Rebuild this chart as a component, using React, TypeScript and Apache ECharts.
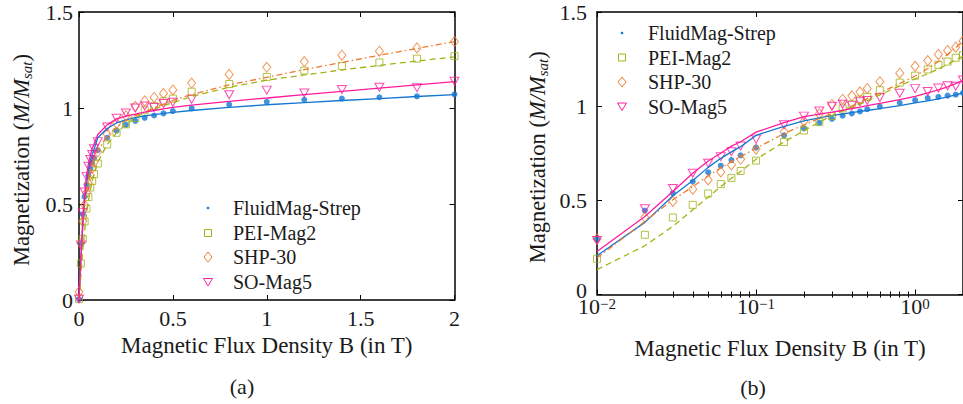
import React, { useEffect, useRef } from 'react';
import * as echarts from 'echarts';

// Magnetic flux density B (T)
const B = [0, 0.01, 0.02, 0.03, 0.04, 0.05, 0.06, 0.07, 0.08, 0.1, 0.15, 0.2, 0.25, 0.3, 0.35, 0.4, 0.45, 0.5, 0.6, 0.8, 1.0, 1.2, 1.4, 1.6, 1.8, 2.0];

// Measured magnetization M/Msat
const fluidMag = [0.005, 0.295, 0.446, 0.538, 0.6, 0.649, 0.684, 0.714, 0.739, 0.78, 0.845, 0.882, 0.912, 0.933, 0.949, 0.961, 0.972, 0.984, 0.998, 1.018, 1.032, 1.043, 1.049, 1.056, 1.061, 1.071];
const peiMag = [0.005, 0.19, 0.317, 0.409, 0.476, 0.536, 0.586, 0.619, 0.656, 0.711, 0.81, 0.871, 0.915, 0.947, 0.988, 1.01, 1.035, 1.049, 1.085, 1.125, 1.162, 1.195, 1.219, 1.237, 1.257, 1.27];
const shp = [0.043, 0.295, 0.41, 0.494, 0.559, 0.608, 0.651, 0.688, 0.718, 0.772, 0.864, 0.92, 0.96, 1.009, 1.037, 1.055, 1.076, 1.094, 1.13, 1.175, 1.212, 1.242, 1.275, 1.296, 1.313, 1.346];
const soMag = [0.005, 0.287, 0.455, 0.563, 0.644, 0.697, 0.732, 0.758, 0.788, 0.825, 0.901, 0.947, 0.974, 1.0, 1.01, 1.003, 1.023, 1.03, 1.046, 1.069, 1.093, 1.078, 1.096, 1.108, 1.106, 1.139];

// Fitted curves M/Msat
const fluidMagFit = [0, 0.206, 0.383, 0.524, 0.605, 0.675, 0.723, 0.757, 0.785, 0.845, 0.893, 0.922, 0.938, 0.95, 0.959, 0.966, 0.972, 0.977, 0.987, 1.003, 1.017, 1.028, 1.039, 1.049, 1.06, 1.07];
const peiMagFit = [0, 0.132, 0.259, 0.362, 0.45, 0.517, 0.573, 0.617, 0.653, 0.718, 0.81, 0.87, 0.915, 0.95, 0.975, 0.995, 1.012, 1.028, 1.06, 1.108, 1.145, 1.172, 1.198, 1.222, 1.245, 1.266];
const shpFit = [0, 0.194, 0.388, 0.503, 0.573, 0.63, 0.672, 0.705, 0.732, 0.776, 0.855, 0.9, 0.935, 0.96, 0.98, 1.0, 1.02, 1.04, 1.07, 1.12, 1.16, 1.2, 1.237, 1.275, 1.31, 1.346];
const soMagFit = [0, 0.228, 0.414, 0.547, 0.644, 0.709, 0.75, 0.788, 0.811, 0.862, 0.912, 0.944, 0.958, 0.968, 0.978, 0.987, 0.995, 1.003, 1.015, 1.035, 1.052, 1.07, 1.087, 1.103, 1.12, 1.137];

const seriesNames = ['FluidMag-Strep', 'PEI-Mag2', 'SHP-30', 'SO-Mag5'];
const linTicks = [0, 0.5, 1, 1.5, 2];
const yTicks = [0, 0.5, 1, 1.5];
const logMinorTicks = [0.02, 0.03, 0.04, 0.05, 0.06, 0.07, 0.08, 0.09, 0.2, 0.3, 0.4, 0.5, 0.6, 0.7, 0.8, 0.9];

const FONT = 'Liberation Serif';
const INK = '#1a1a1a';
const COLORS = ['#1477d2', '#a3b316', '#ee7a2e', '#ff1c9c'];

const SPECS = [
  { name: seriesNames[0], color: COLORS[0], data: fluidMag, fit: fluidMagFit, symbol: 'circle', size: 6, rotate: 0, filled: true, dash: 'solid' as any },
  { name: seriesNames[1], color: COLORS[1], data: peiMag, fit: peiMagFit, symbol: 'rect', size: [7, 7], rotate: 0, filled: false, dash: [6, 4] },
  { name: seriesNames[2], color: COLORS[2], data: shp, fit: shpFit, symbol: 'diamond', size: [8, 10], rotate: 0, filled: false, dash: [6, 3, 1.5, 3] },
  { name: seriesNames[3], color: COLORS[3], data: soMag, fit: soMagFit, symbol: 'triangle', size: [9, 8], rotate: 180, filled: false, dash: 'solid' as any },
];

function legendMarker(kind: number, x: number, y: number) {
  const c = COLORS[kind];
  const stroke = { fill: 'none', stroke: c, lineWidth: 1 };
  if (kind === 0) return { type: 'circle', shape: { cx: x, cy: y, r: 1.3 }, style: { fill: c } };
  if (kind === 1) return { type: 'rect', shape: { x: x - 3.5, y: y - 3.5, width: 7, height: 7 }, style: stroke };
  if (kind === 2) return { type: 'polygon', shape: { points: [[x, y - 5], [x + 4, y], [x, y + 5], [x - 4, y]] }, style: stroke };
  return { type: 'polygon', shape: { points: [[x - 4.5, y - 3.5], [x + 4.5, y - 3.5], [x, y + 4]] }, style: stroke };
}

function legendGroup(mx: number, tx: number, rows: number[]) {
  const els: any[] = [];
  seriesNames.forEach((n, i) => {
    els.push(legendMarker(i, mx, rows[i]));
    els.push({
      type: 'text', x: tx, y: rows[i],
      style: { text: n, font: '20px ' + FONT, fill: INK, align: 'left', verticalAlign: 'middle', textAlign: 'left', textVerticalAlign: 'middle' },
    });
  });
  return els;
}

export default function App() {
  const ref = useRef<HTMLDivElement>(null);
  useEffect(() => {
    if (!ref.current) return;
    const chart = echarts.init(ref.current, undefined, { renderer: 'svg' });

    const axisLine = { show: true, onZero: false, lineStyle: { color: '#000', width: 1.5 } };
    const tick = (len: number) => ({ show: true, inside: true, length: len, lineStyle: { color: '#000', width: 1 } });
    const labelStyle = { fontFamily: FONT, fontSize: 22, color: INK };
    const yName = '{r|Magnetization (}{i|M/M}{s|sat}{r|)}';
    const yNameStyle = {
      fontFamily: FONT, fontSize: 22.5, color: INK, padding: [0, 8, 0, 0],
      rich: {
        r: { fontFamily: FONT, fontSize: 22.5, color: INK, lineHeight: 26 },
        i: { fontFamily: FONT, fontSize: 22.5, fontStyle: 'italic', color: INK, lineHeight: 26 },
        s: { fontFamily: FONT, fontSize: 15, fontStyle: 'italic', color: INK, verticalAlign: 'bottom', lineHeight: 26 },
      },
    };
    const xName = 'Magnetic Flux Density B (in T)';
    const xNameStyle = { fontFamily: FONT, fontSize: 23, color: INK };

    const logFmt = (v: number) => {
      const l = Math.log10(v);
      const e = Math.round(l);
      if (Math.abs(l - e) > 1e-6) return '';
      return '{b|10}{p|' + (e < 0 ? '\u2212' + -e : String(e)) + '}';
    };
    // the right panel's zero label sits a little above its tick, as in the reference
    const rightYFmt = (v: number) => (v === 0 ? '{z|0}' : String(v));

    const xAxis: any[] = [
      { gridIndex: 0, type: 'value', position: 'bottom', min: 0, max: 2, interval: 0.5, axisLine, axisTick: tick(5), splitLine: { show: false },
        axisLabel: { ...labelStyle, margin: 7, customValues: linTicks },
        name: xName, nameLocation: 'middle', nameGap: 33, nameTextStyle: xNameStyle },
      { gridIndex: 0, type: 'value', position: 'top', min: 0, max: 2, interval: 0.5, axisLine, axisTick: tick(5), splitLine: { show: false }, axisLabel: { show: false } },
      { gridIndex: 1, type: 'log', logBase: 10, position: 'bottom', min: 0.01, max: 2, axisLine, axisTick: tick(5), splitLine: { show: false }, minorTick: { show: false },
        axisLabel: {
          ...labelStyle, margin: 2, formatter: logFmt, showMaxLabel: false,
          rich: {
            b: { fontFamily: FONT, fontSize: 22, color: INK, lineHeight: 20 },
            p: { fontFamily: FONT, fontSize: 15, color: INK, verticalAlign: 'top', lineHeight: 8 },
          },
        },
        name: xName, nameLocation: 'middle', nameGap: 42, nameTextStyle: xNameStyle },
      { gridIndex: 1, type: 'log', logBase: 10, position: 'top', min: 0.01, max: 2, axisLine, axisTick: tick(5), splitLine: { show: false }, axisLabel: { show: false } },
      { gridIndex: 1, type: 'log', logBase: 10, position: 'bottom', min: 0.01, max: 2, axisLine: { show: false }, axisTick: { ...tick(3), customValues: logMinorTicks }, splitLine: { show: false }, axisLabel: { show: false } },
      { gridIndex: 1, type: 'log', logBase: 10, position: 'top', min: 0.01, max: 2, axisLine: { show: false }, axisTick: { ...tick(3), customValues: logMinorTicks }, splitLine: { show: false }, axisLabel: { show: false } },
    ];

    const yAxis: any[] = [
      { gridIndex: 0, type: 'value', position: 'left', min: 0, max: 1.5, interval: 0.5, axisLine, axisTick: tick(5), splitLine: { show: false },
        axisLabel: { ...labelStyle, margin: 6, lineHeight: 18, customValues: yTicks },
        name: yName, nameLocation: 'middle', nameGap: 45, nameRotate: 90, nameTextStyle: yNameStyle },
      { gridIndex: 0, type: 'value', position: 'right', min: 0, max: 1.5, interval: 0.5, axisLine, axisTick: tick(5), splitLine: { show: false }, axisLabel: { show: false } },
      { gridIndex: 1, type: 'value', position: 'left', min: 0, max: 1.5, interval: 0.5, axisLine, axisTick: tick(5), splitLine: { show: false },
        axisLabel: {
          ...labelStyle, margin: 10, lineHeight: 12, customValues: yTicks, formatter: rightYFmt,
          rich: { z: { fontFamily: FONT, fontSize: 22, color: INK, lineHeight: 12, padding: [0, 0, 8, 0] } },
        },
        name: yName, nameLocation: 'middle', nameGap: 47, nameRotate: 90, nameTextStyle: yNameStyle },
      { gridIndex: 1, type: 'value', position: 'right', min: 0, max: 1.5, interval: 0.5, axisLine, axisTick: tick(5), splitLine: { show: false }, axisLabel: { show: false } },
    ];

    const series: any[] = [];
    [0, 1].forEach((g) => {
      const xi = g === 0 ? 0 : 2;
      const yi = g === 0 ? 0 : 2;
      SPECS.forEach((s) => {
        const pts = B.map((b, i) => [b, s.fit[i]]).filter((p) => g === 0 || p[0] > 0);
        const obs = B.map((b, i) => [b, s.data[i]]).filter((p) => g === 0 || p[0] > 0);
        series.push({
          type: 'line', name: s.name, xAxisIndex: xi, yAxisIndex: yi, data: pts, symbol: 'none', silent: true, clip: true,
          lineStyle: { color: s.color, width: 1.3, type: s.dash },
        });
        series.push({
          type: 'scatter', name: s.name, xAxisIndex: xi, yAxisIndex: yi, data: obs, clip: true,
          symbol: s.symbol, symbolSize: s.size, symbolRotate: s.rotate,
          itemStyle: s.filled ? { color: s.color } : { color: 'rgba(255,255,255,0)', borderColor: s.color, borderWidth: 1 },
        });
      });
    });

    const graphic: any[] = [
      ...legendGroup(208, 233, [208, 233, 257, 282]),
      ...legendGroup(622, 648, [33, 57.5, 82, 106.5]),
      { type: 'text', x: 242, y: 386, style: { text: '(a)', font: '22px ' + FONT, fill: INK, align: 'center', verticalAlign: 'middle', textAlign: 'center', textVerticalAlign: 'middle' } },
      { type: 'text', x: 753, y: 387, style: { text: '(b)', font: '22px ' + FONT, fill: INK, align: 'center', verticalAlign: 'middle', textAlign: 'center', textVerticalAlign: 'middle' } },
    ];

    chart.setOption({
      animation: false,
      backgroundColor: '#fff',
      grid: [
        { left: 79, top: 12, width: 375.5, height: 288, containLabel: false },
        { left: 597, top: 12, width: 373.5, height: 282.5, containLabel: false },
      ],
      xAxis,
      yAxis,
      series,
      graphic,
    });
    return () => chart.dispose();
  }, []);

  return <div ref={ref} style={{ position: 'absolute', left: 0, top: 0, width: 963, height: 404 }} />;
}
